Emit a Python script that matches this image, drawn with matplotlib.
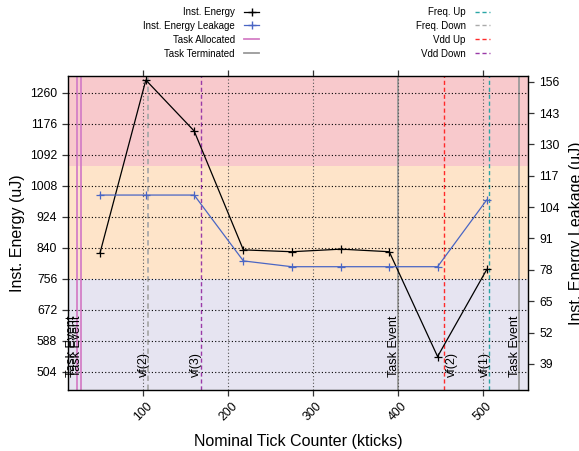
import matplotlib
matplotlib.use("Agg")
import matplotlib.pyplot as plt
from matplotlib.lines import Line2D

plt.rcParams['font.family'] = ['Liberation Sans', 'DejaVu Sans']

# data
tick_x = [49, 103, 160, 218, 275, 333, 390, 447, 505]
energy = [826, 1294, 1156, 834, 829, 836, 829, 545, 781]
leakage = [109, 109, 109, 81.7, 79.3, 79.3, 79.3, 79.3, 107]

alloc_x = [21.5, 26.2]
term_x = [400, 543.4]
freq_up_x = [507.3]
freq_down_x = [105.2]
vdd_up_x = [455]
vdd_down_x = [167.7]

event_text_x = [15.9, 21.8, 101, 162, 395.6, 463.7, 503, 538]
event_text = ['Task Event', 'Task Event', 'vf(2)', 'vf(3)', 'Task Event', 'vf(2)', 'vf(1)', 'Task Event']

band_low = 756
band_high = 1062

left_ticks = [504, 588, 672, 756, 840, 924, 1008, 1092, 1176, 1260]
right_ticks = [39, 52, 65, 78, 91, 104, 117, 130, 143, 156]
x_ticks = [100, 200, 300, 400, 500]

c_energy = 'black'
c_leak = '#4a66c4'
c_alloc = '#d47fc6'
c_term = '#9a9a9a'
c_fup = '#2aa6a6'
c_fdown = '#aaaaaa'
c_vup = '#ff2a2a'
c_vdown = '#9a3aa8'

fig = plt.figure(figsize=(5.79, 4.51), dpi=100)
ax = fig.add_axes([0.118, 0.1353, 0.7945, 0.697])
ax.set_xlim(11.6, 554)
ax.set_ylim(454.5, 1306)

# background bands
ax.axhspan(454.5, band_low, color='#e6e4f1', zorder=0, lw=0)
ax.axhspan(band_low, band_high, color='#fee4c9', zorder=0, lw=0)
ax.axhspan(band_high, 1306, color='#f8c9cc', zorder=0, lw=0)

ax.set_yticks(left_ticks)
ax.set_xticks(x_ticks)
ax.grid(axis='y', color='black', ls=(0, (1, 2)), lw=0.8, zorder=1)
ax.grid(axis='x', color='#555555', ls=(0, (1, 2)), lw=0.8, zorder=1)
ax.set_axisbelow(False)

for x in alloc_x:
    ax.axvline(x, color=c_alloc, lw=1.3, zorder=2)
for x in term_x:
    ax.axvline(x, color=c_term, lw=1.3, zorder=2)
for x in freq_up_x:
    ax.axvline(x, color=c_fup, lw=1.0, ls=(0, (3, 2)), zorder=2)
for x in freq_down_x:
    ax.axvline(x, color=c_fdown, lw=1.3, ls=(0, (3, 2)), zorder=2)
for x in vdd_up_x:
    ax.axvline(x, color=c_vup, lw=1.0, ls=(0, (3, 2)), zorder=2)
for x in vdd_down_x:
    ax.axvline(x, color=c_vdown, lw=1.0, ls=(0, (3, 2)), zorder=2)

for x, t in zip(event_text_x, event_text):
    ax.text(x, 490, t, rotation=90, ha='center', va='bottom', fontsize=9, zorder=3)

ax.plot(tick_x, energy, color=c_energy, lw=0.9, marker='+', ms=6, mew=0.9, zorder=5)

ax2 = ax.twinx()
ax2.set_ylim(28.2, 158.5)
ax2.set_yticks(right_ticks)
ax2.plot(tick_x, leakage, color=c_leak, lw=0.9, marker='+', ms=6, mew=0.9, zorder=4)

for a in (ax, ax2):
    a.tick_params(direction='out', length=4.5, width=0.9, labelsize=8.8, color='#333333')
ax.tick_params(axis='x', top=True, labelrotation=45, pad=3)
for lab in ax.get_xticklabels():
    lab.set_ha('center')

ax.set_xlabel('Nominal Tick Counter (kticks)', fontsize=11.5)
ax.set_ylabel('Inst. Energy (uJ)', fontsize=11.5)
ax2.set_ylabel('Inst. Energy Leakage (uJ)', fontsize=11.5)
ax.xaxis.set_label_coords(0.5, -0.14)
ax.yaxis.set_label_coords(-0.094, 0.5)
ax2.yaxis.set_label_coords(1.088, 0.5)

for s in ax.spines.values():
    s.set_linewidth(1.0)
    s.set_color('#333333')

# legends above the plot
h1 = [Line2D([], [], color=c_energy, marker='+', lw=0.9, ms=6),
      Line2D([], [], color=c_leak, marker='+', lw=0.9, ms=6),
      Line2D([], [], color=c_alloc, lw=1.3),
      Line2D([], [], color=c_term, lw=1.3)]
l1 = ['Inst. Energy', 'Inst. Energy Leakage', 'Task Allocated', 'Task Terminated']
h2 = [Line2D([], [], color=c_fup, lw=1.0, ls=(0, (3, 2))),
      Line2D([], [], color=c_fdown, lw=1.0, ls=(0, (3, 2))),
      Line2D([], [], color=c_vup, lw=1.0, ls=(0, (3, 2))),
      Line2D([], [], color=c_vdown, lw=1.0, ls=(0, (3, 2)))]
l2 = ['Freq. Up', 'Freq. Down', 'Vdd Up', 'Vdd Down']

for h, l, xr in ((h1, l1, 259), (h2, l2, 490)):
    fig.legend(h, l, loc='upper right', bbox_to_anchor=(xr / 579, 1 - 7 / 451),
               frameon=False, markerfirst=False, fontsize=7, borderpad=0,
               borderaxespad=0, handlelength=1.5, handletextpad=1.0,
               labelspacing=0.4)

fig.savefig('out.png', dpi=100)
